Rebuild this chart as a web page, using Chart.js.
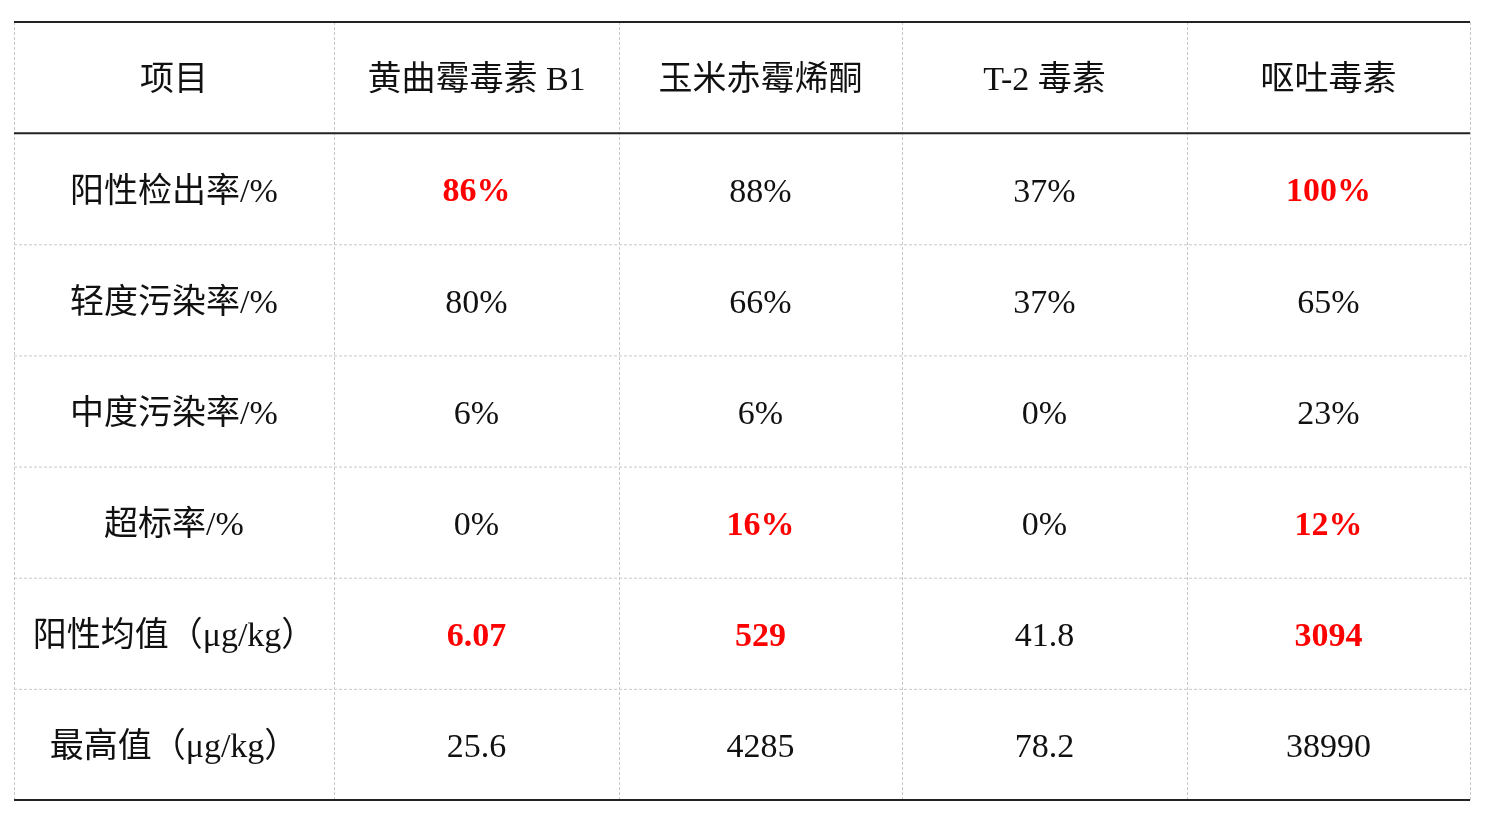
<!DOCTYPE html>
<html><head><meta charset="utf-8">
<script src="https://cdn.jsdelivr.net/npm/chart.js@4"></script>
<style>html,body{margin:0;background:#fff}#wrap{width:1490px;height:816px}</style>
</head><body><div id="wrap"><canvas id="c"></canvas></div>
<script>
var headers = ["项目", "黄曲霉毒素 B1", "玉米赤霉烯酮", "T-2 毒素", "呕吐毒素"];
var rowLabels = ["阳性检出率/%", "轻度污染率/%", "中度污染率/%", "超标率/%", "阳性均值（μg/kg）", "最高值（μg/kg）"];
var cellValues = [
  ["86%", "88%", "37%", "100%"],
  ["80%", "66%", "37%", "65%"],
  ["6%", "6%", "0%", "23%"],
  ["0%", "16%", "0%", "12%"],
  ["6.07", "529", "41.8", "3094"],
  ["25.6", "4285", "78.2", "38990"]
];
var highlighted = [
  [true, false, false, true],
  [false, false, false, false],
  [false, false, false, false],
  [false, true, false, true],
  [true, true, false, true],
  [false, false, false, false]
];

// column edges in table units (layout)
var colEdges = [0, 320, 605, 888, 1173, 1456];
var FONT = "'Liberation Serif', 'Noto Sans CJK SC', serif";

var tablePlugin = {
  id: "table",
  afterDraw: function (chart) {
    var ctx = chart.ctx, xs = chart.scales.x, ys = chart.scales.y;
    var X = function (v) { return xs.getPixelForValue(v); };
    var Y = function (v) { return ys.getPixelForValue(v); };
    var nRows = rowLabels.length + 1;
    ctx.save();
    ctx.setLineDash([3, 2]);
    ctx.strokeStyle = "#c8c8c8";
    ctx.lineWidth = 1;
    colEdges.forEach(function (e) {
      ctx.beginPath(); ctx.moveTo(X(e) + 0.5, Y(0)); ctx.lineTo(X(e) + 0.5, Y(nRows)); ctx.stroke();
    });
    for (var r = 2; r < nRows; r++) {
      ctx.beginPath(); ctx.moveTo(X(0), Y(r) + 0.5); ctx.lineTo(X(1456), Y(r) + 0.5); ctx.stroke();
    }
    ctx.setLineDash([]);
    ctx.strokeStyle = "#222";
    ctx.lineWidth = 2;
    [0, 1, nRows].forEach(function (r) {
      ctx.beginPath(); ctx.moveTo(X(0), Y(r)); ctx.lineTo(X(1456), Y(r)); ctx.stroke();
    });
    ctx.textAlign = "center";
    ctx.textBaseline = "middle";
    function cx(c) { return (X(colEdges[c]) + X(colEdges[c + 1])) / 2; }
    function cy(r) { return (Y(r) + Y(r + 1)) / 2 + 4; }
    ctx.fillStyle = "#111";
    ctx.font = "34px " + FONT;
    headers.forEach(function (h, c) { ctx.fillText(h, cx(c), cy(0)); });
    rowLabels.forEach(function (lab, i) {
      ctx.fillStyle = "#111";
      ctx.font = "34px " + FONT;
      ctx.fillText(lab, cx(0), cy(i + 1));
      cellValues[i].forEach(function (v, j) {
        if (highlighted[i][j]) { ctx.fillStyle = "#ff0000"; ctx.font = "bold 34px " + FONT; }
        else { ctx.fillStyle = "#111"; ctx.font = "34px " + FONT; }
        ctx.fillText(v, cx(j + 1), cy(i + 1));
      });
    });
    ctx.restore();
  }
};

new Chart(document.getElementById("c"), {
  type: "scatter",
  data: { datasets: [] },
  options: {
    responsive: true,
    maintainAspectRatio: false,
    animation: false,
    layout: { padding: { left: 14, right: 20, top: 22, bottom: 16 } },
    scales: {
      x: { type: "linear", min: 0, max: 1456, display: false },
      y: { type: "linear", min: 0, max: 7, reverse: true, display: false }
    },
    plugins: { legend: { display: false }, tooltip: { enabled: false } }
  },
  plugins: [tablePlugin]
});
</script></body></html>
